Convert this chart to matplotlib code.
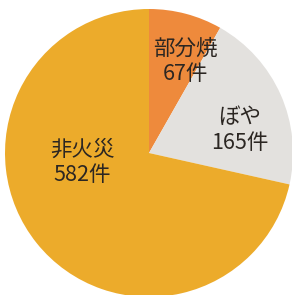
import matplotlib
matplotlib.use("Agg")
import matplotlib.pyplot as plt

plt.rcParams['font.family'] = ['Noto Sans CJK JP', 'DejaVu Sans']

# data
categories = ["部分焼", "ぼや", "非火災"]
counts = [67, 165, 582]
colors = ["#EE8A3C", "#E3E1DE", "#ECAB2B"]

# label anchor points (pixel coords, y from top)
label_pos = [(185, 61), (240, 130), (82, 162)]

W, H = 292, 295
fig = plt.figure(figsize=(W / 100, H / 100), dpi=100)
ax = fig.add_axes([0, 0, 1, 1])

cx, cy, r = 149, H - 153, 144
ax.pie(counts, colors=colors, startangle=90, counterclock=False,
       center=(cx, cy), radius=r, frame=False,
       wedgeprops=dict(linewidth=0))

for name, n, (x, y) in zip(categories, counts, label_pos):
    ax.text(x, H - y, f"{name}\n{n}件", ha="center", va="center",
            fontsize=15.5, color="#2b2622", linespacing=1.2)

ax.set_xlim(0, W)
ax.set_ylim(0, H)
ax.set_aspect("equal")
ax.axis("off")

fig.savefig("out.png", dpi=100)
